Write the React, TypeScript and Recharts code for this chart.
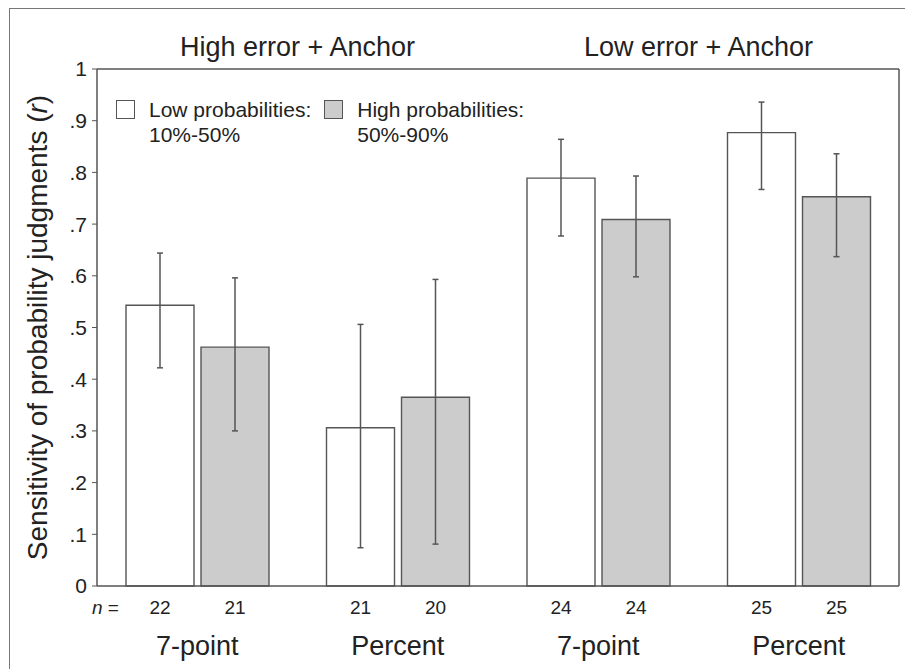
import { Bar, BarChart, ErrorBar, LabelList, XAxis, YAxis } from 'recharts';

const groups = ['7-point', 'Percent', '7-point', 'Percent'];
const conditions = [
  'High error + Anchor',
  'High error + Anchor',
  'Low error + Anchor',
  'Low error + Anchor',
];

// correlation means with their (asymmetric) confidence limits
const lowValues = [0.543, 0.306, 0.789, 0.877];
const lowCiLower = [0.422, 0.074, 0.677, 0.767];
const lowCiUpper = [0.644, 0.506, 0.864, 0.936];
const highValues = [0.462, 0.365, 0.709, 0.753];
const highCiLower = [0.3, 0.081, 0.598, 0.637];
const highCiUpper = [0.596, 0.593, 0.793, 0.836];

const lowN = [22, 21, 24, 25];
const highN = [21, 20, 24, 25];

const yTicks = [0, 0.1, 0.2, 0.3, 0.4, 0.5, 0.6, 0.7, 0.8, 0.9, 1];

const seriesNames = ['Low probabilities:', 'High probabilities:'];
const seriesRanges = ['10%-50%', '50%-90%'];

const FONT = '"Liberation Sans", Arial, sans-serif';
const INK = '#222';
const EDGE = '#555';
const GREY = '#cccccc';

const data = groups.map((group, i) => ({
  group,
  condition: conditions[i],
  low: lowValues[i],
  lowErr: [lowValues[i] - lowCiLower[i], lowCiUpper[i] - lowValues[i]],
  high: highValues[i],
  highErr: [highValues[i] - highCiLower[i], highCiUpper[i] - highValues[i]],
  nLow: lowN[i],
  nHigh: highN[i],
}));

function formatTick(v: number) {
  if (v === 0) return '0';
  if (v === 1) return '1';
  return '.' + Math.round(v * 10);
}

function NLabel(props: any) {
  const { x, y, width, height, value } = props;
  return (
    <text
      x={x + width / 2}
      y={y + height + 28}
      textAnchor="middle"
      fontSize={19}
      fontFamily={FONT}
      fill={INK}
    >
      {value}
    </text>
  );
}

function GroupTick(props: any) {
  const { x, y, payload } = props;
  return (
    <text x={x} y={y + 61} textAnchor="middle" fontSize={27} fontFamily={FONT} fill={INK}>
      {payload.value}
    </text>
  );
}

function ConditionTick(props: any) {
  const { x, payload } = props;
  if (payload.index % 2 !== 0) return <g />;
  const half = payload.offset ?? 100;
  return (
    <text x={x + half} y={56} textAnchor="middle" fontSize={27} fontFamily={FONT} fill={INK}>
      {payload.value}
    </text>
  );
}

function NPrefix(props: any) {
  const { viewBox } = props;
  return (
    <text
      x={viewBox.x - 5}
      y={viewBox.y + 28}
      textAnchor="start"
      fontSize={19}
      fontFamily={FONT}
      fill={INK}
    >
      <tspan fontStyle="italic">n</tspan> =
    </text>
  );
}

function YTitle(props: any) {
  const { viewBox } = props;
  const cx = viewBox.x + 37;
  const cy = viewBox.y + viewBox.height / 2;
  return (
    <text
      x={cx}
      y={cy}
      transform={`rotate(-90 ${cx} ${cy})`}
      textAnchor="middle"
      dominantBaseline="central"
      fontSize={28}
      fontFamily={FONT}
      fill={INK}
    >
      Sensitivity of probability judgments (<tspan fontStyle="italic">r</tspan>)
    </text>
  );
}

function Swatch({ fill }: { fill: string }) {
  return (
    <div
      style={{
        width: 17,
        height: 17,
        background: fill,
        border: `1px solid ${EDGE}`,
        marginTop: 3,
        marginRight: 14,
        flexShrink: 0,
      }}
    />
  );
}

export default function App() {
  const fills = ['#ffffff', GREY];
  return (
    <div
      style={{
        position: 'absolute',
        left: 0,
        top: 0,
        width: 905,
        height: 669,
        overflow: 'hidden',
        background: '#fff',
        fontFamily: FONT,
      }}
    >
      <div
        style={{
          position: 'absolute',
          left: 9,
          top: 8,
          width: 1000,
          height: 800,
          border: '1px solid #777',
        }}
      />
      <BarChart
        width={905}
        height={669}
        data={data}
        margin={{ top: 0, right: 3, left: 0, bottom: 0 }}
        barSize={68}
        barGap={7}
        style={{ position: 'absolute', left: 0, top: 0 }}
      >
        <XAxis
          dataKey="group"
          height={83}
          axisLine={{ stroke: EDGE, strokeWidth: 1.5 }}
          tickLine={false}
          tick={<GroupTick />}
          interval={0}
          label={{ content: <NPrefix /> }}
        />
        <XAxis
          xAxisId="top"
          dataKey="condition"
          orientation="top"
          height={69}
          axisLine={{ stroke: EDGE, strokeWidth: 1.5 }}
          tickLine={false}
          tick={<ConditionTick />}
          interval={0}
        />
        <YAxis
          domain={[0, 1]}
          ticks={yTicks}
          width={97}
          tickFormatter={formatTick}
          axisLine={{ stroke: EDGE, strokeWidth: 1.5 }}
          tickLine={{ stroke: EDGE }}
          tickSize={5}
          tickMargin={5}
          tick={{ fontSize: 21, fontFamily: FONT, fill: INK }}
          label={{ content: <YTitle /> }}
        />
        <YAxis
          yAxisId="right"
          orientation="right"
          domain={[0, 1]}
          width={3}
          tick={false}
          tickLine={false}
          axisLine={{ stroke: EDGE, strokeWidth: 1.5 }}
        />
        <Bar
          dataKey="low"
          name={seriesNames[0]}
          fill={fills[0]}
          stroke={EDGE}
          strokeWidth={1.4}
          isAnimationActive={false}
        >
          <ErrorBar dataKey="lowErr" width={3} stroke={EDGE} strokeWidth={1.5} />
          <LabelList dataKey="nLow" content={<NLabel />} />
        </Bar>
        <Bar
          dataKey="high"
          name={seriesNames[1]}
          fill={fills[1]}
          stroke={EDGE}
          strokeWidth={1.4}
          isAnimationActive={false}
        >
          <ErrorBar dataKey="highErr" width={3} stroke={EDGE} strokeWidth={1.5} />
          <LabelList dataKey="nHigh" content={<NLabel />} />
        </Bar>
      </BarChart>
      <div
        style={{
          position: 'absolute',
          left: 116,
          top: 97,
          display: 'flex',
          gap: 13,
          fontSize: 21,
          lineHeight: '25px',
          color: INK,
        }}
      >
        {seriesNames.map((name, i) => (
          <div key={name} style={{ display: 'flex' }}>
            <Swatch fill={fills[i]} />
            <div>
              {name}
              <br />
              {seriesRanges[i]}
            </div>
          </div>
        ))}
      </div>
    </div>
  );
}
